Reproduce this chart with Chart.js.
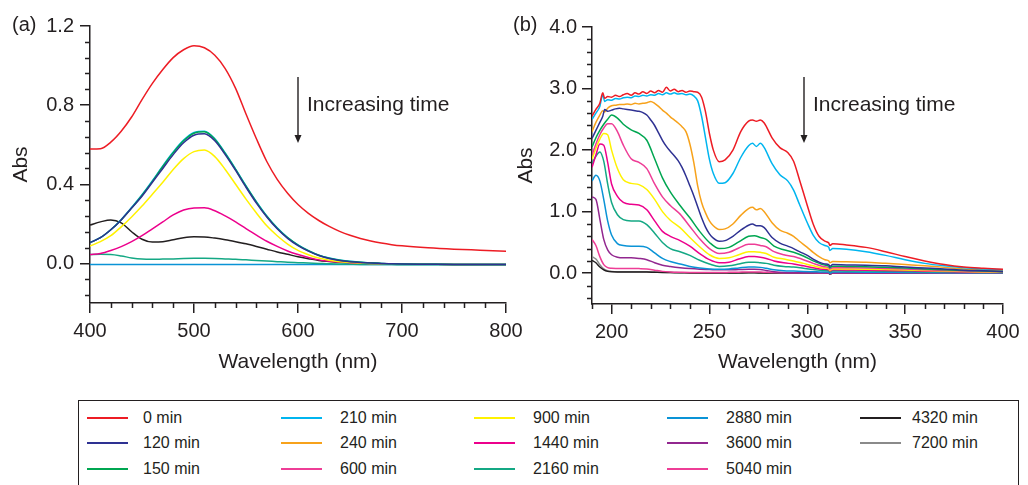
<!doctype html>
<html lang="en">
<head>
<meta charset="utf-8">
<title>Abs spectra vs time</title>
<style>
  * { margin: 0; padding: 0; }
  body {
    width: 1028px; height: 485px; position: relative; overflow: hidden;
    background: #fff; color: #231f20;
    font-family: 'Liberation Sans', Arial, sans-serif;
  }
  .panel { position: absolute; top: 0; height: 390px; }
  #panelA { left: 0; width: 540px; }
  #panelB { left: 505px; width: 523px; }
  .tag { position: absolute; top: 14px; font-size: 20px; line-height: 20px; }
  .note { position: absolute; top: 93px; font-size: 21px; line-height: 21px; white-space: nowrap; }
  .arrow { position: absolute; top: 76px; }
  .legendBox {
    position: absolute; left: 78px; top: 400px; width: 939px; height: 100px;
    border: 1px solid #231f20;
  }
  .swatch { position: absolute; width: 41px; height: 2px; }
  .item { position: absolute; font-size: 16px; line-height: 16px; white-space: nowrap; }
</style>
</head>
<body>
  <div class="panel" id="panelA"><canvas id="chartA" width="540" height="390"></canvas></div>
  <div class="panel" id="panelB"><canvas id="chartB" width="523" height="390"></canvas></div>

  <div class="tag" style="left:12px">(a)</div>
  <div class="tag" style="left:513px">(b)</div>

  <svg class="arrow" style="left:292px" width="12" height="70"><line x1="6" y1="1" x2="6" y2="60" stroke="#231f20" stroke-width="1.4"/><path d="M2.5 59 L9.5 59 L6 67 Z" fill="#231f20"/></svg>
  <div class="note" style="left:307px">Increasing time</div>
  <svg class="arrow" style="left:798px" width="12" height="70"><line x1="6" y1="1" x2="6" y2="60" stroke="#231f20" stroke-width="1.4"/><path d="M2.5 59 L9.5 59 L6 67 Z" fill="#231f20"/></svg>
  <div class="note" style="left:813px">Increasing time</div>

  <div class="legendBox"></div>
  <div id="legend"></div>

  <script src="https://cdn.jsdelivr.net/npm/chart.js"></script>
  <script>
    // series (legend order)
    const seriesLabels = ['0 min', '120 min', '150 min', '210 min', '240 min', '600 min', '900 min',
      '1440 min', '2160 min', '2880 min', '3600 min', '5040 min', '4320 min', '7200 min'];
    const seriesColors = ['#ed1c24', '#2e3192', '#00a651', '#00b5ef', '#f7a21b', '#ee3d96', '#fff200',
      '#ec008c', '#14a884', '#0a93d6', '#92278f', '#ee3d96', '#231f20', '#8a8a8a'];

    // ---- panel (a): visible region
    const wavelengthA = [400, 410, 420, 430, 440, 450, 460, 470, 480, 490, 500, 510, 520, 530, 540, 550, 560,
      570, 580, 590, 600, 610, 620, 630, 640, 650, 660, 670, 680, 690, 700, 725, 750, 775, 800];
    const a0 = [0.578, 0.58, 0.613, 0.668, 0.74, 0.828, 0.91, 0.98, 1.04, 1.08, 1.10, 1.09, 1.052, 0.985, 0.885, 0.755, 0.63,
      0.515, 0.425, 0.355, 0.298, 0.253, 0.217, 0.187, 0.162, 0.142, 0.126, 0.113, 0.103, 0.095, 0.089, 0.079, 0.072, 0.067, 0.062];
    const a120 = [0.105, 0.13, 0.17, 0.22, 0.28, 0.34, 0.41, 0.48, 0.55, 0.61, 0.648, 0.655, 0.62, 0.55, 0.47, 0.385, 0.305,
      0.235, 0.175, 0.127, 0.09, 0.062, 0.04, 0.025, 0.015, 0.009, 0.005, 0.002, 0.0, -0.002, -0.003, -0.004, -0.005, -0.005, -0.005];
    const a150 = [0.105, 0.13, 0.17, 0.22, 0.28, 0.345, 0.415, 0.49, 0.56, 0.62, 0.658, 0.665, 0.628, 0.556, 0.475, 0.39, 0.31,
      0.238, 0.178, 0.13, 0.093, 0.064, 0.041, 0.026, 0.016, 0.01, 0.006, 0.003, 0.0, -0.002, -0.003, -0.004, -0.005, -0.005, -0.005];
    const a210 = [0.105, 0.13, 0.17, 0.222, 0.283, 0.347, 0.418, 0.493, 0.563, 0.623, 0.662, 0.668, 0.63, 0.558, 0.477, 0.392, 0.312,
      0.24, 0.18, 0.131, 0.094, 0.065, 0.042, 0.027, 0.017, 0.011, 0.006, 0.003, 0.0, -0.002, -0.003, -0.004, -0.005, -0.005, -0.005];
    const a900 = [0.088, 0.11, 0.14, 0.185, 0.235, 0.29, 0.35, 0.41, 0.475, 0.53, 0.565, 0.573, 0.54, 0.475, 0.4, 0.325, 0.255,
      0.19, 0.14, 0.098, 0.066, 0.044, 0.027, 0.016, 0.009, 0.005, 0.002, 0.0, -0.001, -0.002, -0.003, -0.004, -0.005, -0.005, -0.005];
    const a1440 = [0.045, 0.05, 0.065, 0.085, 0.11, 0.14, 0.175, 0.21, 0.245, 0.27, 0.28, 0.281, 0.266, 0.24, 0.21, 0.176, 0.143,
      0.112, 0.086, 0.063, 0.045, 0.03, 0.018, 0.011, 0.007, 0.004, 0.002, 0.0, -0.001, -0.002, -0.003, -0.004, -0.005, -0.005, -0.005];
    const a2160 = [0.045, 0.046, 0.045, 0.038, 0.028, 0.022, 0.021, 0.022, 0.023, 0.025, 0.026, 0.026, 0.025, 0.023, 0.021, 0.018, 0.015,
      0.012, 0.009, 0.006, 0.004, 0.002, 0.0, -0.002, -0.003, -0.004, -0.005, -0.005, -0.006, -0.006, -0.007, -0.007, -0.007, -0.007, -0.007];
    const a2880 = [-0.005, -0.005, -0.005, -0.005, -0.005, -0.005, -0.005, -0.005, -0.005, -0.005, -0.005, -0.005, -0.005, -0.005,
      -0.005, -0.005, -0.005, -0.005, -0.005, -0.005, -0.005, -0.005, -0.005, -0.005, -0.005, -0.005, -0.005, -0.005, -0.005,
      -0.005, -0.005, -0.005, -0.005, -0.005, -0.005];
    const a4320 = [0.194, 0.21, 0.22, 0.205, 0.16, 0.122, 0.108, 0.11, 0.12, 0.13, 0.135, 0.134, 0.128, 0.12, 0.11, 0.099, 0.086,
      0.072, 0.058, 0.046, 0.034, 0.024, 0.015, 0.01, 0.006, 0.003, 0.002, 0.0, -0.001, -0.002, -0.003, -0.004, -0.005, -0.005, -0.005];
    const panelAValues = [a0, a120, a150, a210, null, null, a900, a1440, a2160, a2880, null, null, a4320, null];

    // ---- panel (b): UV region, dense grid for the top four curves
    const wavelengthBTop = [190, 192, 194, 195.5, 196.5, 198, 200, 202, 204, 206, 208, 210, 212, 214, 216, 218, 220,
      222, 224, 226, 228, 230, 232, 234, 236, 238, 240, 242, 244, 246, 248, 250, 252, 255, 258, 262, 266, 270,
      272, 274, 276, 278, 282, 286, 290, 293, 296, 300, 303, 306, 309, 311, 311.5, 313, 320, 330, 340, 350,
      360, 370, 380, 390, 400];
    const b0 = [2.55, 2.66, 2.76, 2.93, 2.84, 2.87, 2.86, 2.89, 2.87, 2.9, 2.92, 2.89, 2.93, 2.91, 2.95, 2.92, 2.96,
      2.93, 2.97, 2.94, 3.02, 2.96, 2.99, 2.95, 2.97, 2.94, 2.96, 2.95, 2.94, 2.86, 2.62, 2.27, 2.0, 1.81, 1.84,
      2.0, 2.3, 2.47, 2.49, 2.47, 2.49, 2.44, 2.2, 2.04, 1.96, 1.82, 1.52, 1.1, 0.8, 0.6, 0.52, 0.49, 0.45, 0.48,
      0.46, 0.42, 0.35, 0.27, 0.2, 0.14, 0.1, 0.08, 0.065];
    const b210 = [2.5, 2.6, 2.71, 2.9, 2.79, 2.82, 2.81, 2.84, 2.83, 2.85, 2.86, 2.85, 2.88, 2.87, 2.89, 2.88, 2.9,
      2.89, 2.92, 2.9, 2.93, 2.91, 2.93, 2.91, 2.92, 2.9, 2.91, 2.88, 2.8, 2.55, 2.2, 1.85, 1.62, 1.46, 1.47,
      1.62, 1.88, 2.07, 2.11, 2.06, 2.11, 2.04, 1.78, 1.6, 1.5, 1.35, 1.12, 0.82, 0.62, 0.5, 0.45, 0.42, 0.37, 0.4,
      0.39, 0.35, 0.29, 0.22, 0.16, 0.12, 0.09, 0.07, 0.055];
    const b240 = [2.3, 2.45, 2.57, 2.64, 2.62, 2.68, 2.72, 2.73, 2.74, 2.74, 2.75, 2.74, 2.76, 2.75, 2.76, 2.77, 2.79,
      2.76, 2.71, 2.65, 2.6, 2.54, 2.49, 2.44, 2.38, 2.3, 2.1, 1.8, 1.42, 1.15, 0.98, 0.85, 0.77, 0.71, 0.72,
      0.8, 0.94, 1.05, 1.07, 1.03, 1.05, 1.0, 0.82, 0.7, 0.65, 0.6, 0.52, 0.42, 0.34, 0.27, 0.22, 0.2, 0.17, 0.19,
      0.185, 0.18, 0.16, 0.14, 0.12, 0.095, 0.07, 0.055, 0.04];
    const b120 = [2.19, 2.32, 2.45, 2.55, 2.66, 2.63, 2.65, 2.67, 2.68, 2.67, 2.66, 2.65, 2.64, 2.63, 2.61, 2.57, 2.49,
      2.4, 2.28, 2.16, 2.06, 1.98, 1.91, 1.83, 1.72, 1.58, 1.42, 1.26, 1.08, 0.9, 0.75, 0.64, 0.57, 0.52, 0.53,
      0.6, 0.7, 0.78, 0.8, 0.77, 0.77, 0.74, 0.58, 0.49, 0.44, 0.4, 0.35, 0.29, 0.23, 0.18, 0.15, 0.14, 0.11, 0.14,
      0.135, 0.13, 0.12, 0.1, 0.085, 0.07, 0.05, 0.04, 0.03];

    const wavelengthB = [190, 192, 194, 196, 198, 200, 203, 206, 210, 214, 218, 222, 226, 230, 235, 240, 245, 250,
      255, 260, 265, 270, 273, 276, 279, 283, 288, 293, 298, 303, 308, 311, 311.5, 313, 320, 330, 340, 350, 360,
      370, 380, 390, 400];
    const b150 = [2.05, 2.2, 2.32, 2.42, 2.5, 2.57, 2.52, 2.42, 2.33, 2.27, 2.16, 1.86, 1.55, 1.32, 1.1, 0.9, 0.68, 0.5,
      0.4, 0.42, 0.51, 0.6, 0.61, 0.58, 0.55, 0.44, 0.38, 0.34, 0.28, 0.2, 0.14, 0.115, 0.09, 0.115, 0.11, 0.105,
      0.095, 0.085, 0.07, 0.055, 0.045, 0.035, 0.025];
    const b600 = [1.92, 2.1, 2.25, 2.36, 2.43, 2.43, 2.3, 2.08, 1.86, 1.8, 1.7, 1.45, 1.24, 1.1, 0.96, 0.76, 0.56, 0.4,
      0.32, 0.34, 0.41, 0.47, 0.47, 0.45, 0.43, 0.35, 0.3, 0.27, 0.22, 0.16, 0.11, 0.09, 0.07, 0.09, 0.088, 0.085,
      0.077, 0.068, 0.056, 0.045, 0.035, 0.027, 0.02];
    const b900 = [1.85, 2.03, 2.18, 2.27, 2.25, 2.0, 1.7, 1.52, 1.46, 1.44, 1.36, 1.2, 1.0, 0.86, 0.74, 0.58, 0.43, 0.3,
      0.24, 0.25, 0.3, 0.35, 0.35, 0.34, 0.32, 0.26, 0.23, 0.2, 0.16, 0.12, 0.085, 0.07, 0.05, 0.07, 0.068, 0.065,
      0.06, 0.053, 0.045, 0.036, 0.028, 0.021, 0.015];
    const b1440 = [1.72, 1.92, 2.1, 2.08, 1.8, 1.45, 1.25, 1.15, 1.12, 1.11, 1.03, 0.85, 0.68, 0.6, 0.53, 0.44, 0.32, 0.22,
      0.17, 0.18, 0.23, 0.27, 0.27, 0.26, 0.24, 0.2, 0.17, 0.15, 0.12, 0.09, 0.065, 0.055, 0.035, 0.055, 0.053, 0.05,
      0.046, 0.04, 0.034, 0.027, 0.021, 0.016, 0.012];
    const b2160 = [1.78, 1.9, 1.97, 1.82, 1.45, 1.15, 0.95, 0.87, 0.85, 0.85, 0.79, 0.65, 0.5, 0.4, 0.35, 0.29, 0.21, 0.15,
      0.11, 0.12, 0.15, 0.18, 0.18, 0.17, 0.16, 0.13, 0.11, 0.1, 0.08, 0.06, 0.045, 0.04, 0.02, 0.04, 0.038, 0.036,
      0.033, 0.029, 0.025, 0.02, 0.016, 0.012, 0.009];
    const b2880 = [1.5, 1.59, 1.5, 1.2, 0.85, 0.62, 0.48, 0.45, 0.44, 0.44, 0.42, 0.33, 0.24, 0.19, 0.15, 0.11, 0.085, 0.07,
      0.065, 0.07, 0.085, 0.1, 0.1, 0.095, 0.08, 0.055, 0.04, 0.035, 0.03, 0.025, 0.02, 0.018, 0.0, 0.018, 0.018, 0.017,
      0.015, 0.013, 0.011, 0.009, 0.007, 0.006, 0.005];
    const b3600 = [1.24, 1.2, 0.88, 0.55, 0.38, 0.3, 0.26, 0.25, 0.25, 0.24, 0.22, 0.17, 0.13, 0.11, 0.09, 0.075, 0.065, 0.06,
      0.055, 0.055, 0.06, 0.065, 0.065, 0.06, 0.045, 0.025, 0.012, 0.008, 0.007, 0.006, 0.006, 0.005, -0.01, 0.005, 0.005,
      0.005, 0.005, 0.005, 0.004, 0.004, 0.004, 0.003, 0.003];
    const b5040 = [0.55, 0.45, 0.27, 0.14, 0.09, 0.08, 0.077, 0.076, 0.076, 0.075, 0.07, 0.05, 0.03, 0.02, 0.015, 0.012, 0.012,
      0.012, 0.012, 0.014, 0.017, 0.02, 0.02, 0.018, 0.014, 0.01, 0.008, 0.007, 0.006, 0.006, 0.005, 0.005, -0.01, 0.005,
      0.005, 0.004, 0.004, 0.004, 0.003, 0.003, 0.003, 0.002, 0.002];
    const b4320 = [0.21, 0.17, 0.1, 0.055, 0.03, 0.022, 0.02, 0.02, 0.02, 0.02, 0.018, 0.015, 0.012, 0.01, 0.008, 0.005, 0.004,
      0.004, 0.004, 0.004, 0.005, 0.006, 0.006, 0.005, 0.004, 0.003, 0.002, 0.002, 0.002, 0.002, 0.002, 0.002, -0.015, 0.002,
      0.002, 0.002, 0.001, 0.001, 0.001, 0.001, 0.0, 0.0, 0.0];
    const b7200 = [0.27, 0.23, 0.14, 0.07, 0.04, 0.03, 0.025, 0.025, 0.025, 0.024, 0.022, 0.018, 0.014, 0.012, 0.009, 0.006,
      0.005, 0.005, 0.005, 0.005, 0.006, 0.007, 0.007, 0.006, 0.005, 0.004, 0.003, 0.003, 0.003, 0.003, 0.003, 0.003, -0.015,
      0.003, 0.003, 0.003, 0.002, 0.002, 0.002, 0.002, 0.001, 0.001, 0.001];
    const panelBValues = [b0, b120, b150, b210, b240, b600, b900, b1440, b2160, b2880, b3600, b5040, b4320, b7200];
    const panelBGrid = [wavelengthBTop, wavelengthBTop, wavelengthB, wavelengthBTop, wavelengthBTop, wavelengthB,
      wavelengthB, wavelengthB, wavelengthB, wavelengthB, wavelengthB, wavelengthB, wavelengthB, wavelengthB];

    // axis ticks
    const ticksAx = [400, 500, 600, 700, 800];
    const ticksAy = [0, 0.4, 0.8, 1.2];
    const ticksBx = [200, 250, 300, 350, 400];
    const ticksBy = [0, 1, 2, 3, 4];

    const axisColor = '#231f20';
    Chart.defaults.font.family = "'Liberation Sans', Arial, sans-serif";
    Chart.defaults.color = axisColor;

    // small unlabeled ticks between the major ones
    const minorTicks = {
      id: 'minorTicks',
      afterDraw(chart, args, opts) {
        const ctx = chart.ctx;
        ctx.save();
        ctx.strokeStyle = axisColor;
        ctx.lineWidth = 1.5;
        ctx.beginPath();
        ['x', 'y'].forEach(id => {
          const scale = chart.scales[id];
          const step = opts[id];
          const majors = scale.ticks.map(t => t.value);
          for (let k = Math.ceil(scale.min / step - 1e-9); k * step <= scale.max + 1e-9; k++) {
            const v = k * step;
            if (majors.some(m => Math.abs(m - v) < step / 10)) continue;
            const p = Math.round(scale.getPixelForValue(v)) + 0.5;
            if (id === 'x') { ctx.moveTo(p, scale.top); ctx.lineTo(p, scale.top + 5); }
            else { ctx.moveTo(scale.right, p); ctx.lineTo(scale.right - 5, p); }
          }
        });
        ctx.stroke();
        ctx.restore();
      }
    };

    function makeScale(min, max, majors, title, decimals, opts) {
      const isX = opts.axis === 'x';
      return {
        type: 'linear',
        min: min,
        max: max,
        afterBuildTicks: s => { s.ticks = majors.map(v => ({ value: v })); },
        afterFit: s => {
          if (isX) { s.height = opts.size; s.paddingLeft = 0; s.paddingRight = 0; }
          else { s.width = opts.size; s.paddingTop = 0; s.paddingBottom = 0; }
        },
        grid: { drawOnChartArea: false, drawTicks: true, tickLength: 10, tickWidth: 1.5, tickColor: axisColor, lineWidth: 1.5 },
        border: { display: true, color: axisColor, width: 1.5 },
        ticks: {
          font: { size: 20 },
          color: axisColor,
          padding: opts.pad,
          maxRotation: 0,
          autoSkip: false,
          callback: v => v.toFixed(decimals)
        },
        title: {
          display: true,
          text: title,
          font: { size: 21 },
          color: axisColor,
          padding: isX ? { top: 0, bottom: 15 } : { top: 9, bottom: 0 }
        }
      };
    }

    function lineDataset(i, grid, values) {
      return {
        label: seriesLabels[i],
        data: grid.map((x, k) => ({ x: x, y: values[k] })),
        borderColor: seriesColors[i],
        borderWidth: 1.5,
        pointRadius: 0,
        cubicInterpolationMode: 'monotone',
        fill: false
      };
    }

    function baseOptions(pad, scales, minor) {
      return {
        responsive: false,
        animation: false,
        devicePixelRatio: 1,
        layout: { padding: pad },
        scales: scales,
        plugins: {
          legend: { display: false },
          tooltip: { enabled: false },
          minorTicks: minor
        }
      };
    }

    const datasetsA = [];
    panelAValues.forEach((vals, i) => { if (vals) datasetsA.push(lineDataset(i, wavelengthA, vals)); });

    new Chart(document.getElementById('chartA'), {
      type: 'line',
      data: { datasets: datasetsA },
      options: baseOptions({ top: 26, right: 34, left: 0, bottom: 0 }, {
        x: makeScale(400, 800, ticksAx, 'Wavelength (nm)', 0, { axis: 'x', size: 87, pad: 6 }),
        y: makeScale(-0.2, 1.2, ticksAy, 'Abs', 1, { axis: 'y', size: 90, pad: 6 })
      }, { x: 20, y: 0.08 }),
      plugins: [minorTicks]
    });

    const datasetsB = panelBValues.map((vals, i) => lineDataset(i, panelBGrid[i], vals));

    new Chart(document.getElementById('chartB'), {
      type: 'line',
      data: { datasets: datasetsB },
      options: baseOptions({ top: 27, right: 25, left: 0, bottom: 0 }, {
        x: makeScale(190, 400, ticksBx, 'Wavelength (nm)', 0, { axis: 'x', size: 86, pad: 6 }),
        y: makeScale(-0.5, 4.0, ticksBy, 'Abs', 1, { axis: 'y', size: 87, pad: 5 })
      }, { x: 10, y: 0.2 }),
      plugins: [minorTicks]
    });

    // legend below both panels, three rows per column
    const legendLineX = [87, 281, 474, 667, 860];
    const legendTextX = [143, 340, 533, 726, 912];
    const legendRowY = [418, 443, 469];
    const legend = document.getElementById('legend');
    seriesLabels.forEach((label, i) => {
      const col = Math.floor(i / 3), row = i % 3;
      const sw = document.createElement('div');
      sw.className = 'swatch';
      sw.style.left = legendLineX[col] + 'px';
      sw.style.top = (legendRowY[row] - 1) + 'px';
      sw.style.background = seriesColors[i];
      legend.appendChild(sw);
      const tx = document.createElement('div');
      tx.className = 'item';
      tx.style.left = legendTextX[col] + 'px';
      tx.style.top = (legendRowY[row] - 8) + 'px';
      tx.textContent = label;
      legend.appendChild(tx);
    });
  </script>
</body>
</html>
